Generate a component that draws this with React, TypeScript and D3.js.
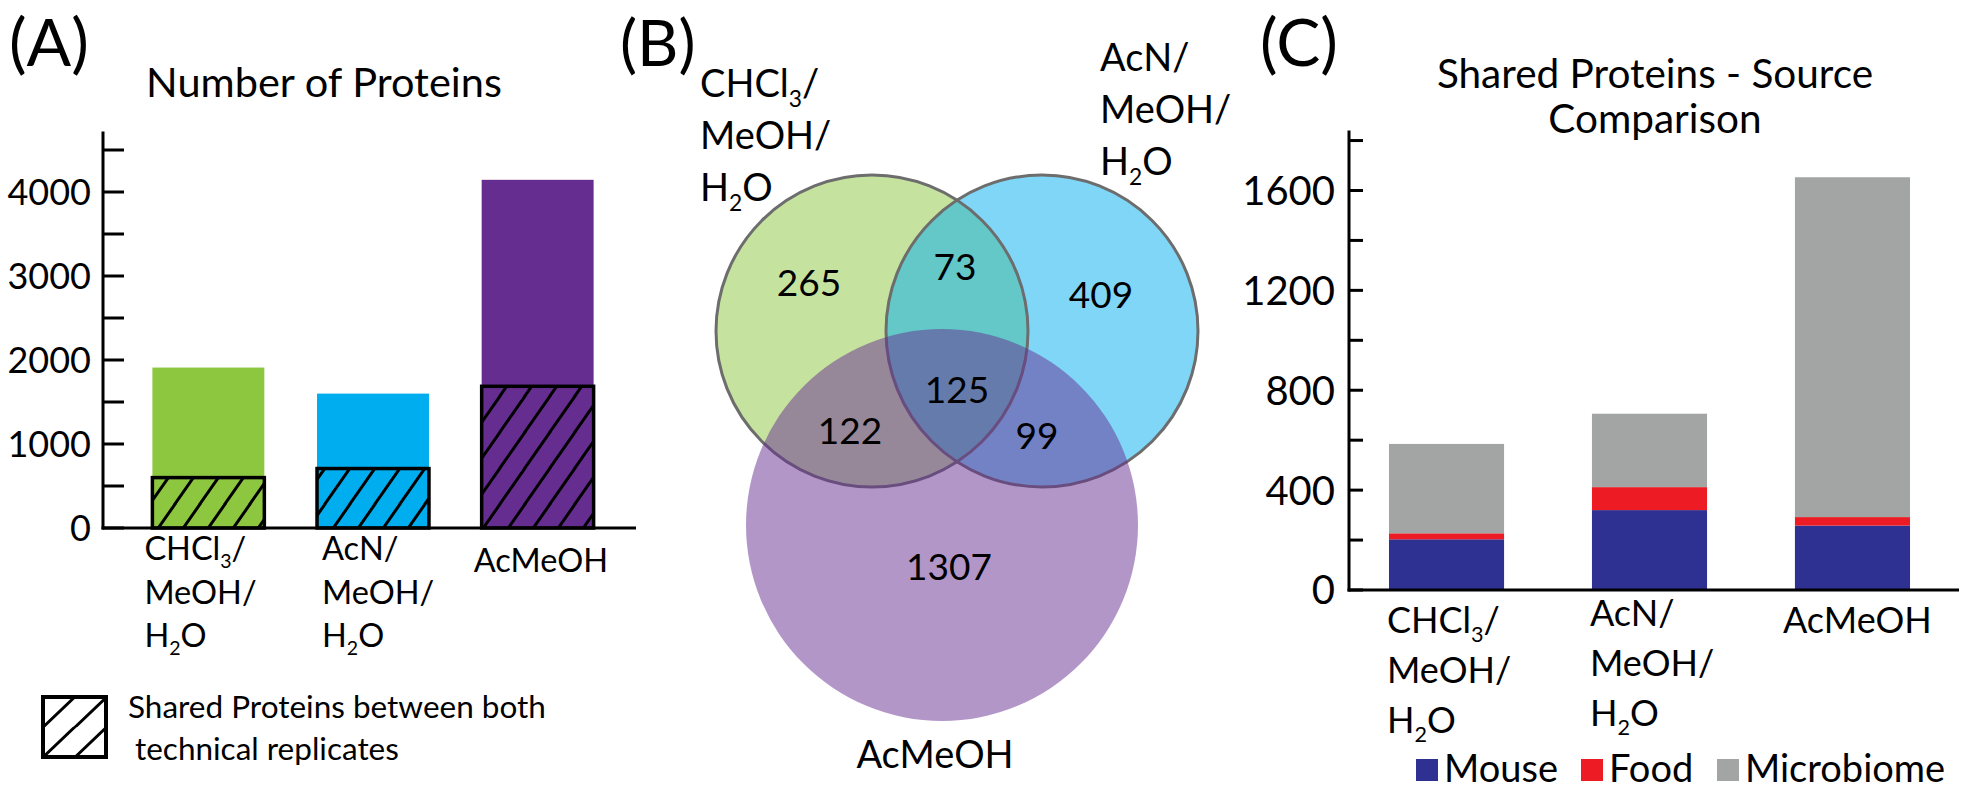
import React from 'react';
import * as d3 from 'd3';

// ---- data ----
const categories = ['CHCl3/MeOH/H2O', 'AcN/MeOH/H2O', 'AcMeOH'];
const categoryLines = [['CHCl_3/', 'MeOH/', 'H_2O'], ['AcN/', 'MeOH/', 'H_2O'], ['AcMeOH']];
const totalProteins = [1910, 1600, 4145];
const sharedProteins = [600, 708, 1687];
const barColors = ['#8dc63f', '#00aeef', '#662d91'];
const ticksA = [0, 1000, 2000, 3000, 4000];

const vennSets = ['CHCl3', 'AcN', 'AcMeOH'];
const vennColors = ['#8dc63f', '#00aeef', '#662d91'];
const vennRegions = ['CHCl3', 'AcN', 'AcMeOH', 'CHCl3&AcN', 'CHCl3&AcMeOH', 'AcN&AcMeOH', 'all'];
const vennCounts = [265, 409, 1307, 73, 122, 99, 125];

const sources = ['Mouse', 'Food', 'Microbiome'];
const sourceColors = ['#2e3192', '#ed1c24', '#a3a4a4'];
const mouseCounts = [203, 320, 258];
const foodCounts = [24, 92, 34];
const microbiomeCounts = [358, 294, 1361];
const ticksC = [0, 400, 800, 1200, 1600];

const FONT = 'Lato, "Liberation Sans", sans-serif';

// text with _n subscripts
function Chem({ x, y, text, size, anchor = 'start' }: any) {
  const parts = text.split(/_(\d)/);
  const sh = size * 0.26;
  return (
    <text x={x} y={y} fontSize={size} textAnchor={anchor}>
      {parts.map((p: string, i: number) =>
        i % 2 === 1 ? (
          <tspan key={i} fontSize={size * 0.6} dy={sh}>{p}</tspan>
        ) : (
          <tspan key={i} dy={i > 0 ? -sh : 0}>{p}</tspan>
        )
      )}
    </text>
  );
}

function PanelA() {
  const y0 = 528;
  const y = d3.scaleLinear().domain([0, 4720]).range([y0, y0 - 4720 * 0.084]);
  const x = d3.scaleBand().domain(categories).range([103, 643]).paddingInner(0.32).paddingOuter(0.3);
  const minor = d3.range(0, 4501, 500);
  const labelDx = [-8, 5, -8];
  return (
    <g>
      <text x={9} y={66} fontSize={66}>(A)</text>
      <text x={324} y={97} fontSize={41.5} textAnchor="middle">Number of Proteins</text>
      {categories.map((c, i) => (
        <g key={c}>
          <rect x={x(c)} y={y(totalProteins[i])} width={x.bandwidth()} height={y(0) - y(totalProteins[i])} fill={barColors[i]} />
          <rect x={x(c)} y={y(sharedProteins[i])} width={x.bandwidth()} height={y(0) - y(sharedProteins[i])} fill="url(#hatch)" stroke="#000" strokeWidth={3.5} />
        </g>
      ))}
      <line x1={103} x2={103} y1={y0 + 1.5} y2={y(4720)} stroke="#000" strokeWidth={3} />
      <line x1={101.5} x2={636} y1={y0} y2={y0} stroke="#000" strokeWidth={3} />
      {minor.map((t) => (
        <line key={t} x1={103} x2={124} y1={y(t)} y2={y(t)} stroke="#000" strokeWidth={3} />
      ))}
      {ticksA.map((t) => (
        <text key={t} x={91} y={y(t)} dy="0.36em" fontSize={36} textAnchor="end">{t}</text>
      ))}
      {categories.map((c, i) =>
        categoryLines[i].map((ln, j) => (
          <Chem key={c + j} x={(x(c) as number) + labelDx[i]} y={(i === 2 ? y0 + 44 : y0 + 32) + j * 43.5} text={ln} size={32.5} />
        ))
      )}
      <rect x={43} y={697} width={63} height={60} fill="url(#hatchLegend)" stroke="#000" strokeWidth={4} />
      <text x={128} y={718} fontSize={31.5}>Shared Proteins between both</text>
      <text x={135} y={760} fontSize={31.5}>technical replicates</text>
    </g>
  );
}

function PanelB() {
  const circles = [
    { cx: 872, cy: 331, r: 156 },
    { cx: 1042, cy: 331, r: 156 },
    { cx: 942, cy: 525, r: 196 },
  ];
  const [g, b, p] = circles;
  // label anchors derived from circle geometry
  const labelXY: [number, number][] = [
    [g.cx - 63, g.cy - 48],
    [b.cx + 59, b.cy - 36],
    [p.cx + 7, p.cy + 42],
    [(g.cx + b.cx) / 2 - 2, g.cy - 64],
    [g.cx - 22, g.cy + 100],
    [b.cx - 5, b.cy + 105],
    [(g.cx + b.cx) / 2, g.cy + 59],
  ];
  return (
    <g>
      <text x={620} y={66} fontSize={64}>(B)</text>
      {circles.slice(0, 2).map((c, i) => (
        <circle key={vennSets[i]} cx={c.cx} cy={c.cy} r={c.r} fill={vennColors[i]} fillOpacity={0.5} />
      ))}
      {circles.slice(0, 2).map((c, i) => (
        <circle key={vennSets[i] + 's'} cx={c.cx} cy={c.cy} r={c.r} fill="none" stroke="#6d6d6d" strokeWidth={3} />
      ))}
      <circle cx={p.cx} cy={p.cy} r={p.r} fill={vennColors[2]} fillOpacity={0.5} />
      {vennRegions.map((rg, i) => (
        <text key={rg} x={labelXY[i][0]} y={labelXY[i][1]} dy="0.36em" fontSize={37} textAnchor="middle">{vennCounts[i]}</text>
      ))}
      {categoryLines[0].map((ln, j) => (
        <Chem key={'l0' + j} x={700} y={97 + j * 52} text={ln} size={38} />
      ))}
      {categoryLines[1].map((ln, j) => (
        <Chem key={'l1' + j} x={1100} y={71 + j * 52} text={ln} size={38} />
      ))}
      <text x={p.cx - 7} y={768} fontSize={38} textAnchor="middle">{categoryLines[2][0]}</text>
    </g>
  );
}

function PanelC() {
  const y0 = 590;
  const y = d3.scaleLinear().domain([0, 1840]).range([y0, y0 - 1840 * 0.2497]);
  const x = d3.scaleBand().domain(categories).range([1349, 1950]).paddingInner(0.433).paddingOuter(0.197);
  const rows = categories.map((c, i) => ({ cat: c, Mouse: mouseCounts[i], Food: foodCounts[i], Microbiome: microbiomeCounts[i] }));
  const series = d3.stack<any>().keys(sources)(rows);
  const minor = d3.range(0, 1801, 200);
  const legendX = [1416, 1581, 1717];
  return (
    <g>
      <text x={1260} y={66} fontSize={66}>(C)</text>
      <text x={1655} y={88} fontSize={40.5} textAnchor="middle">Shared Proteins - Source</text>
      <text x={1655} y={133} fontSize={40.5} textAnchor="middle">Comparison</text>
      {series.map((s, k) =>
        s.map((d, i) => (
          <rect key={sources[k] + i} x={x(categories[i])} y={y(d[1])} width={x.bandwidth()} height={y(d[0]) - y(d[1])} fill={sourceColors[k]} />
        ))
      )}
      <line x1={1349} x2={1349} y1={y0 + 1.5} y2={y(1840)} stroke="#000" strokeWidth={3} />
      <line x1={1347.5} x2={1959} y1={y0} y2={y0} stroke="#000" strokeWidth={3} />
      {minor.map((t) => (
        <line key={t} x1={1349} x2={1363} y1={y(t)} y2={y(t)} stroke="#000" strokeWidth={3} />
      ))}
      {ticksC.map((t) => (
        <text key={t} x={1335} y={y(t)} dy="0.36em" fontSize={40} textAnchor="end">{t}</text>
      ))}
      {categories.map((c, i) =>
        categoryLines[i].map((ln, j) => (
          <Chem key={c + j} x={(x(c) as number) - (i === 2 ? 12 : 2)} y={y0 + (i === 1 ? 36 : 43) + j * 50} text={ln} size={36} />
        ))
      )}
      {sources.map((s, k) => (
        <g key={s}>
          <rect x={legendX[k]} y={759} width={22} height={22} fill={sourceColors[k]} />
          <text x={legendX[k] + 28} y={782} fontSize={38}>{s}</text>
        </g>
      ))}
    </g>
  );
}

export default function App() {
  return (
    <svg width={1967} height={796} style={{ position: 'absolute', left: 0, top: 0, background: '#fff' }} fontFamily={FONT} fill="#000">
      <defs>
        <pattern id="hatch" patternUnits="userSpaceOnUse" width={25} height={36}>
          <path d="M-5,43 L30,-7 M-30,43 L5,-7 M20,43 L55,-7" stroke="#000" strokeWidth={3} />
        </pattern>
        <pattern id="hatchLegend" patternUnits="userSpaceOnUse" x={43} y={697} width={32} height={30}>
          <path d="M-4,34 L36,-4 M-36,34 L4,-4 M28,34 L68,-4" stroke="#000" strokeWidth={3} />
        </pattern>
      </defs>
      <rect width={1967} height={796} fill="#fff" />
      <PanelA />
      <PanelB />
      <PanelC />
    </svg>
  );
}
